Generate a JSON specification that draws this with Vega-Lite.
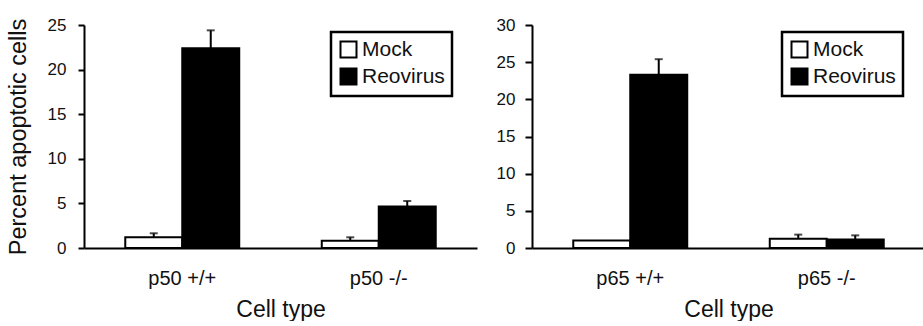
{
  "$schema": "https://vega.github.io/schema/vega-lite/v6.json",
  "padding": {"left": 6, "top": 16, "right": 0, "bottom": 0},
  "spacing": 19,
  "config": {
    "font": "Liberation Sans",
    "view": {"stroke": null},
    "axis": {"domainColor": "black", "domainWidth": 2, "tickColor": "black", "tickWidth": 2, "labelColor": "#111", "titleColor": "#111", "grid": false, "titleFontWeight": "normal", "labelOverlap": false},
    "legend": {"strokeColor": "black", "strokeWidth": 2.5, "padding": 7}
  },
  "datasets": {
    "p50": [
      {"cell": "p50 +/+", "treatment": "Mock", "value": 1.2, "hi": 1.65},
      {"cell": "p50 +/+", "treatment": "Reovirus", "value": 22.4, "hi": 24.4},
      {"cell": "p50 -/-", "treatment": "Mock", "value": 0.82, "hi": 1.2},
      {"cell": "p50 -/-", "treatment": "Reovirus", "value": 4.65, "hi": 5.27}
    ],
    "p65": [
      {"cell": "p65 +/+", "treatment": "Mock", "value": 1.0, "hi": 1.0},
      {"cell": "p65 +/+", "treatment": "Reovirus", "value": 23.3, "hi": 25.4},
      {"cell": "p65 -/-", "treatment": "Mock", "value": 1.25, "hi": 1.8},
      {"cell": "p65 -/-", "treatment": "Reovirus", "value": 1.15, "hi": 1.7}
    ]
  },
  "resolve": {"scale": {"fill": "independent", "y": "independent"}, "legend": {"fill": "independent"}},
  "hconcat": [
    {
      "width": 393,
      "height": 223,
      "data": {"name": "p50"},
      "encoding": {
        "x": {"field": "cell", "type": "nominal", "sort": ["p50 +/+", "p50 -/-"], "scale": {"paddingInner": 0.42, "paddingOuter": 0.21},
          "axis": {"title": "Cell type", "labelAngle": 0, "ticks": false, "labelFontSize": 20, "labelPadding": 20, "titleFontSize": 23, "titlePadding": 10}},
        "xOffset": {"field": "treatment", "type": "nominal", "sort": ["Mock", "Reovirus"], "scale": {"paddingInner": 0, "paddingOuter": 0}}
      },
      "layer": [
        {
          "mark": {"type": "bar", "stroke": "black", "strokeWidth": 2},
          "encoding": {
            "y": {"field": "value", "type": "quantitative", "scale": {"domain": [0, 25], "nice": false},
              "axis": {"title": "Percent apoptotic cells", "values": [0, 5, 10, 15, 20, 25], "tickSize": 6, "labelFontSize": 17, "labelPadding": 12, "titleFontSize": 23.5, "titlePadding": 17}},
            "fill": {"field": "treatment", "type": "nominal", "scale": {"domain": ["Mock", "Reovirus"], "range": ["white", "black"]},
              "legend": {"title": null, "orient": "none", "legendX": 247, "legendY": 7, "symbolType": "square", "symbolSize": 256, "symbolStrokeColor": "black", "symbolStrokeWidth": 2, "labelFontSize": 21, "labelColor": "#111", "labelOffset": 3, "rowPadding": 2, "symbolOpacity": 1}}
          }
        },
        {
          "transform": [{"filter": "datum.hi > datum.value"}],
          "mark": {"type": "rule", "color": "black", "strokeWidth": 2},
          "encoding": {
            "y": {"field": "value", "type": "quantitative", "scale": {"domain": [0, 25], "nice": false},
              "axis": {"title": "Percent apoptotic cells", "values": [0, 5, 10, 15, 20, 25], "tickSize": 6, "labelFontSize": 17, "labelPadding": 12, "titleFontSize": 23.5, "titlePadding": 17}},
            "y2": {"field": "hi"}}
        },
        {
          "transform": [{"filter": "datum.hi > datum.value"}],
          "mark": {"type": "tick", "color": "black", "orient": "horizontal", "size": 8, "thickness": 2},
          "encoding": {
            "y": {"field": "hi", "type": "quantitative", "scale": {"domain": [0, 25], "nice": false},
              "axis": {"title": "Percent apoptotic cells", "values": [0, 5, 10, 15, 20, 25], "tickSize": 6, "labelFontSize": 17, "labelPadding": 12, "titleFontSize": 23.5, "titlePadding": 17}}}
        }
      ]
    },
    {
      "width": 393,
      "height": 223,
      "data": {"name": "p65"},
      "encoding": {
        "x": {"field": "cell", "type": "nominal", "sort": ["p65 +/+", "p65 -/-"], "scale": {"paddingInner": 0.42, "paddingOuter": 0.21},
          "axis": {"title": "Cell type", "labelAngle": 0, "ticks": false, "labelFontSize": 20, "labelPadding": 20, "titleFontSize": 23, "titlePadding": 10}},
        "xOffset": {"field": "treatment", "type": "nominal", "sort": ["Mock", "Reovirus"], "scale": {"paddingInner": 0, "paddingOuter": 0}}
      },
      "layer": [
        {
          "mark": {"type": "bar", "stroke": "black", "strokeWidth": 2},
          "encoding": {
            "y": {"field": "value", "type": "quantitative", "scale": {"domain": [0, 30], "nice": false},
              "axis": {"title": null, "values": [0, 5, 10, 15, 20, 25, 30], "tickSize": 7, "labelFontSize": 17, "labelPadding": 10}},
            "fill": {"field": "treatment", "type": "nominal", "scale": {"domain": ["Mock", "Reovirus"], "range": ["white", "black"]},
              "legend": {"title": null, "orient": "none", "legendX": 250, "legendY": 7, "symbolType": "square", "symbolSize": 256, "symbolStrokeColor": "black", "symbolStrokeWidth": 2, "labelFontSize": 21, "labelColor": "#111", "labelOffset": 3, "rowPadding": 2, "symbolOpacity": 1}}
          }
        },
        {
          "transform": [{"filter": "datum.hi > datum.value"}],
          "mark": {"type": "rule", "color": "black", "strokeWidth": 2},
          "encoding": {
            "y": {"field": "value", "type": "quantitative", "scale": {"domain": [0, 30], "nice": false},
              "axis": {"title": null, "values": [0, 5, 10, 15, 20, 25, 30], "tickSize": 7, "labelFontSize": 17, "labelPadding": 10}},
            "y2": {"field": "hi"}}
        },
        {
          "transform": [{"filter": "datum.hi > datum.value"}],
          "mark": {"type": "tick", "color": "black", "orient": "horizontal", "size": 8, "thickness": 2},
          "encoding": {
            "y": {"field": "hi", "type": "quantitative", "scale": {"domain": [0, 30], "nice": false},
              "axis": {"title": null, "values": [0, 5, 10, 15, 20, 25, 30], "tickSize": 7, "labelFontSize": 17, "labelPadding": 10}}}
        }
      ]
    }
  ]
}
